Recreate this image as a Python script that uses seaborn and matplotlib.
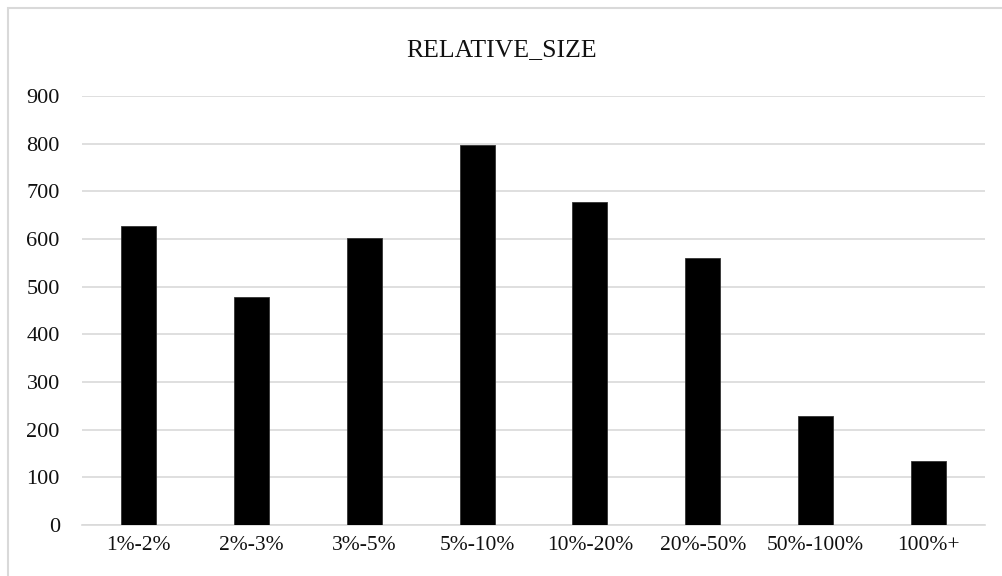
import matplotlib
matplotlib.use("Agg")
import matplotlib.pyplot as plt
from matplotlib.patches import Rectangle
import seaborn as sns
import pandas as pd

categories = ["1%-2%", "2%-3%", "3%-5%", "5%-10%", "10%-20%", "20%-50%", "50%-100%", "100%+"]
counts = [628, 479, 602, 798, 678, 561, 229, 134]
y_ticks = [0, 100, 200, 300, 400, 500, 600, 700, 800, 900]
title = "RELATIVE_SIZE"

sns.set_theme(style="white")
plt.rcParams["font.family"] = ["Liberation Serif", "DejaVu Serif"]

W, H = 1002, 576
fig = plt.figure(figsize=(W / 100, H / 100), dpi=100)
fig.patch.set_facecolor("white")

left, right, top, bottom = 82, 985, 96, 525
ax = fig.add_axes([left / W, 1 - bottom / H, (right - left) / W, (bottom - top) / H])

df = pd.DataFrame({"range": categories, "count": counts})
sns.barplot(data=df, x="range", y="count", color="black", width=0.31,
            saturation=1, edgecolor="#333333", linewidth=0.6, ax=ax, zorder=3)

grid_color = "#d9d9d9"
ax.set_ylim(0, 900)
ax.set_yticks(y_ticks)
ax.set_yticklabels([str(v) for v in y_ticks])
ax.yaxis.grid(True, color=grid_color, linewidth=1.2, zorder=0)
ax.xaxis.grid(False)
for side in ["left", "right", "top"]:
    ax.spines[side].set_visible(False)
ax.spines["bottom"].set_color(grid_color)
ax.spines["bottom"].set_linewidth(1.2)
ax.tick_params(axis="both", length=0, labelsize=15.5, colors="#111111")
ax.tick_params(axis="y", labelsize=16, pad=16)
ax.tick_params(axis="x", pad=8)
ax.set_xlabel("")
ax.set_ylabel("")

fig.text(502 / W, 1 - 50 / H, title, ha="center", va="center",
         fontsize=18.5, color="#111111")

# light chart frame
fig.patches.append(Rectangle((8 / W, -0.1), 1.2, (H - 8) / H + 0.1,
                             transform=fig.transFigure, fill=False,
                             edgecolor=grid_color, linewidth=1.5))

fig.savefig("out.png", dpi=100, facecolor="white")
